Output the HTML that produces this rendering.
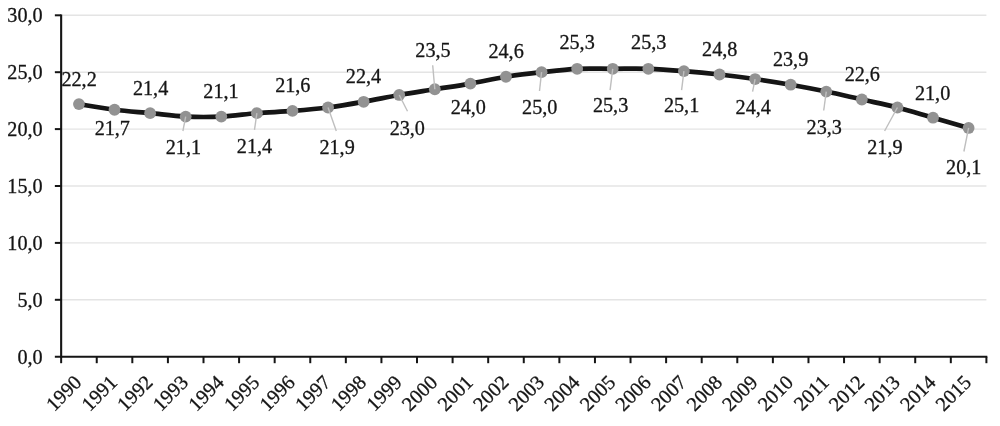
<!DOCTYPE html>
<html><head><meta charset="utf-8"><title>chart</title>
<style>html,body{margin:0;padding:0;background:#fff}svg{display:block}text{font-family:"Liberation Serif",serif;fill:#151515;stroke:#151515;stroke-width:0.3px}</style></head><body>
<svg width="1000" height="426" viewBox="0 0 1000 426">
<rect width="1000" height="426" fill="#fff"/>
<line x1="61.15" x2="986.4" y1="299.80" y2="299.80" stroke="#e4e4e4" stroke-width="1.4"/>
<line x1="61.15" x2="986.4" y1="242.90" y2="242.90" stroke="#e4e4e4" stroke-width="1.4"/>
<line x1="61.15" x2="986.4" y1="186.00" y2="186.00" stroke="#e4e4e4" stroke-width="1.4"/>
<line x1="61.15" x2="986.4" y1="129.10" y2="129.10" stroke="#e4e4e4" stroke-width="1.4"/>
<line x1="61.15" x2="986.4" y1="72.20" y2="72.20" stroke="#e4e4e4" stroke-width="1.4"/>
<line x1="61.15" x2="986.4" y1="15.30" y2="15.30" stroke="#e4e4e4" stroke-width="1.4"/>
<line x1="61.15" x2="61.15" y1="14.40" y2="357.7" stroke="#151515" stroke-width="2.1"/>
<line x1="54.85" x2="987.3" y1="356.7" y2="356.7" stroke="#151515" stroke-width="2.1"/>
<text x="42.7" y="363.5" font-size="20.2" text-anchor="end">0,0</text>
<line x1="54.85" x2="61.15" y1="299.80" y2="299.80" stroke="#151515" stroke-width="2"/>
<text x="42.7" y="306.6" font-size="20.2" text-anchor="end">5,0</text>
<line x1="54.85" x2="61.15" y1="242.90" y2="242.90" stroke="#151515" stroke-width="2"/>
<text x="42.7" y="249.7" font-size="20.2" text-anchor="end">10,0</text>
<line x1="54.85" x2="61.15" y1="186.00" y2="186.00" stroke="#151515" stroke-width="2"/>
<text x="42.7" y="192.8" font-size="20.2" text-anchor="end">15,0</text>
<line x1="54.85" x2="61.15" y1="129.10" y2="129.10" stroke="#151515" stroke-width="2"/>
<text x="42.7" y="135.9" font-size="20.2" text-anchor="end">20,0</text>
<line x1="54.85" x2="61.15" y1="72.20" y2="72.20" stroke="#151515" stroke-width="2"/>
<text x="42.7" y="79.0" font-size="20.2" text-anchor="end">25,0</text>
<line x1="54.85" x2="61.15" y1="15.30" y2="15.30" stroke="#151515" stroke-width="2"/>
<text x="42.7" y="22.1" font-size="20.2" text-anchor="end">30,0</text>
<line x1="61.15" x2="61.15" y1="356.7" y2="363.2" stroke="#151515" stroke-width="2"/>
<line x1="96.74" x2="96.74" y1="356.7" y2="363.2" stroke="#151515" stroke-width="2"/>
<line x1="132.32" x2="132.32" y1="356.7" y2="363.2" stroke="#151515" stroke-width="2"/>
<line x1="167.91" x2="167.91" y1="356.7" y2="363.2" stroke="#151515" stroke-width="2"/>
<line x1="203.50" x2="203.50" y1="356.7" y2="363.2" stroke="#151515" stroke-width="2"/>
<line x1="239.08" x2="239.08" y1="356.7" y2="363.2" stroke="#151515" stroke-width="2"/>
<line x1="274.67" x2="274.67" y1="356.7" y2="363.2" stroke="#151515" stroke-width="2"/>
<line x1="310.26" x2="310.26" y1="356.7" y2="363.2" stroke="#151515" stroke-width="2"/>
<line x1="345.84" x2="345.84" y1="356.7" y2="363.2" stroke="#151515" stroke-width="2"/>
<line x1="381.43" x2="381.43" y1="356.7" y2="363.2" stroke="#151515" stroke-width="2"/>
<line x1="417.02" x2="417.02" y1="356.7" y2="363.2" stroke="#151515" stroke-width="2"/>
<line x1="452.60" x2="452.60" y1="356.7" y2="363.2" stroke="#151515" stroke-width="2"/>
<line x1="488.19" x2="488.19" y1="356.7" y2="363.2" stroke="#151515" stroke-width="2"/>
<line x1="523.77" x2="523.77" y1="356.7" y2="363.2" stroke="#151515" stroke-width="2"/>
<line x1="559.36" x2="559.36" y1="356.7" y2="363.2" stroke="#151515" stroke-width="2"/>
<line x1="594.95" x2="594.95" y1="356.7" y2="363.2" stroke="#151515" stroke-width="2"/>
<line x1="630.53" x2="630.53" y1="356.7" y2="363.2" stroke="#151515" stroke-width="2"/>
<line x1="666.12" x2="666.12" y1="356.7" y2="363.2" stroke="#151515" stroke-width="2"/>
<line x1="701.71" x2="701.71" y1="356.7" y2="363.2" stroke="#151515" stroke-width="2"/>
<line x1="737.29" x2="737.29" y1="356.7" y2="363.2" stroke="#151515" stroke-width="2"/>
<line x1="772.88" x2="772.88" y1="356.7" y2="363.2" stroke="#151515" stroke-width="2"/>
<line x1="808.47" x2="808.47" y1="356.7" y2="363.2" stroke="#151515" stroke-width="2"/>
<line x1="844.05" x2="844.05" y1="356.7" y2="363.2" stroke="#151515" stroke-width="2"/>
<line x1="879.64" x2="879.64" y1="356.7" y2="363.2" stroke="#151515" stroke-width="2"/>
<line x1="915.23" x2="915.23" y1="356.7" y2="363.2" stroke="#151515" stroke-width="2"/>
<line x1="950.81" x2="950.81" y1="356.7" y2="363.2" stroke="#151515" stroke-width="2"/>
<line x1="986.40" x2="986.40" y1="356.7" y2="363.2" stroke="#151515" stroke-width="2"/>
<path d="M78.94,104.06 C84.87,105.01 102.67,108.24 114.53,109.75 C126.39,111.27 138.25,112.03 150.12,113.17 C161.98,114.31 173.84,116.01 185.70,116.58 C197.57,117.15 209.43,117.15 221.29,116.58 C233.15,116.01 245.01,114.12 256.88,113.17 C268.74,112.22 280.60,111.84 292.46,110.89 C304.32,109.94 316.19,109.00 328.05,107.48 C339.91,105.96 351.77,103.87 363.64,101.79 C375.50,99.70 387.36,97.05 399.22,94.96 C411.08,92.87 422.95,91.17 434.81,89.27 C446.67,87.37 458.53,85.67 470.40,83.58 C482.26,81.49 494.12,78.65 505.98,76.75 C517.84,74.86 529.71,73.53 541.57,72.20 C553.43,70.87 565.29,69.36 577.15,68.79 C589.02,68.22 600.88,68.79 612.74,68.79 C624.60,68.79 636.47,68.41 648.33,68.79 C660.19,69.17 672.05,70.11 683.91,71.06 C695.78,72.01 707.64,73.15 719.50,74.48 C731.36,75.80 743.23,77.32 755.09,79.03 C766.95,80.74 778.81,82.63 790.67,84.72 C802.54,86.80 814.40,89.08 826.26,91.55 C838.12,94.01 849.98,96.86 861.85,99.51 C873.71,102.17 885.57,104.44 897.43,107.48 C909.30,110.51 921.16,114.31 933.02,117.72 C944.88,121.13 962.68,126.25 968.61,127.96" fill="none" stroke="#151515" stroke-width="4.7" stroke-linecap="round" stroke-linejoin="round"/>
<circle cx="78.94" cy="104.06" r="5.9" fill="#929292"/>
<circle cx="114.53" cy="109.75" r="5.9" fill="#929292"/>
<circle cx="150.12" cy="113.17" r="5.9" fill="#929292"/>
<circle cx="185.70" cy="116.58" r="5.9" fill="#929292"/>
<circle cx="221.29" cy="116.58" r="5.9" fill="#929292"/>
<circle cx="256.88" cy="113.17" r="5.9" fill="#929292"/>
<circle cx="292.46" cy="110.89" r="5.9" fill="#929292"/>
<circle cx="328.05" cy="107.48" r="5.9" fill="#929292"/>
<circle cx="363.64" cy="101.79" r="5.9" fill="#929292"/>
<circle cx="399.22" cy="94.96" r="5.9" fill="#929292"/>
<circle cx="434.81" cy="89.27" r="5.9" fill="#929292"/>
<circle cx="470.40" cy="83.58" r="5.9" fill="#929292"/>
<circle cx="505.98" cy="76.75" r="5.9" fill="#929292"/>
<circle cx="541.57" cy="72.20" r="5.9" fill="#929292"/>
<circle cx="577.15" cy="68.79" r="5.9" fill="#929292"/>
<circle cx="612.74" cy="68.79" r="5.9" fill="#929292"/>
<circle cx="648.33" cy="68.79" r="5.9" fill="#929292"/>
<circle cx="683.91" cy="71.06" r="5.9" fill="#929292"/>
<circle cx="719.50" cy="74.48" r="5.9" fill="#929292"/>
<circle cx="755.09" cy="79.03" r="5.9" fill="#929292"/>
<circle cx="790.67" cy="84.72" r="5.9" fill="#929292"/>
<circle cx="826.26" cy="91.55" r="5.9" fill="#929292"/>
<circle cx="861.85" cy="99.51" r="5.9" fill="#929292"/>
<circle cx="897.43" cy="107.48" r="5.9" fill="#929292"/>
<circle cx="933.02" cy="117.72" r="5.9" fill="#929292"/>
<circle cx="968.61" cy="127.96" r="5.9" fill="#929292"/>
<line x1="185.70" y1="116.58" x2="182.9" y2="131" stroke="#bfbfbf" stroke-width="1.4"/>
<line x1="256.88" y1="113.17" x2="254.5" y2="129.8" stroke="#bfbfbf" stroke-width="1.4"/>
<line x1="328.05" y1="107.48" x2="336.3" y2="131.1" stroke="#bfbfbf" stroke-width="1.4"/>
<line x1="399.22" y1="94.96" x2="407.5" y2="111.3" stroke="#bfbfbf" stroke-width="1.4"/>
<line x1="434.81" y1="89.27" x2="432.7" y2="65.2" stroke="#bfbfbf" stroke-width="1.4"/>
<line x1="541.57" y1="72.20" x2="539.5" y2="91" stroke="#bfbfbf" stroke-width="1.4"/>
<line x1="612.74" y1="68.79" x2="610.1" y2="90.2" stroke="#bfbfbf" stroke-width="1.4"/>
<line x1="683.91" y1="71.06" x2="681.6" y2="90.2" stroke="#bfbfbf" stroke-width="1.4"/>
<line x1="755.09" y1="79.03" x2="752.6" y2="91.7" stroke="#bfbfbf" stroke-width="1.4"/>
<line x1="826.26" y1="91.55" x2="823.7" y2="110.5" stroke="#bfbfbf" stroke-width="1.4"/>
<line x1="897.43" y1="107.48" x2="884.6" y2="131" stroke="#bfbfbf" stroke-width="1.4"/>
<line x1="968.61" y1="127.96" x2="963.9" y2="151.5" stroke="#bfbfbf" stroke-width="1.4"/>
<text x="79.1" y="86.0" font-size="20.2" text-anchor="middle">22,2</text>
<text x="112.3" y="134.5" font-size="20.2" text-anchor="middle">21,7</text>
<text x="150.6" y="94.5" font-size="20.2" text-anchor="middle">21,4</text>
<text x="183.4" y="153.8" font-size="20.2" text-anchor="middle">21,1</text>
<text x="221.0" y="97.6" font-size="20.2" text-anchor="middle">21,1</text>
<text x="254.5" y="153.3" font-size="20.2" text-anchor="middle">21,4</text>
<text x="292.8" y="91.9" font-size="20.2" text-anchor="middle">21,6</text>
<text x="337.1" y="153.8" font-size="20.2" text-anchor="middle">21,9</text>
<text x="363.5" y="82.9" font-size="20.2" text-anchor="middle">22,4</text>
<text x="407.3" y="134.5" font-size="20.2" text-anchor="middle">23,0</text>
<text x="433.0" y="57.4" font-size="20.2" text-anchor="middle">23,5</text>
<text x="468.3" y="114.2" font-size="20.2" text-anchor="middle">24,0</text>
<text x="506.1" y="58.1" font-size="20.2" text-anchor="middle">24,6</text>
<text x="539.7" y="114.2" font-size="20.2" text-anchor="middle">25,0</text>
<text x="577.1" y="49.2" font-size="20.2" text-anchor="middle">25,3</text>
<text x="610.6" y="112.4" font-size="20.2" text-anchor="middle">25,3</text>
<text x="648.7" y="49.2" font-size="20.2" text-anchor="middle">25,3</text>
<text x="681.6" y="112.4" font-size="20.2" text-anchor="middle">25,1</text>
<text x="719.7" y="55.6" font-size="20.2" text-anchor="middle">24,8</text>
<text x="753.2" y="113.7" font-size="20.2" text-anchor="middle">24,4</text>
<text x="790.6" y="66.4" font-size="20.2" text-anchor="middle">23,9</text>
<text x="824.2" y="134.0" font-size="20.2" text-anchor="middle">23,3</text>
<text x="862.3" y="80.6" font-size="20.2" text-anchor="middle">22,6</text>
<text x="884.9" y="154.1" font-size="20.2" text-anchor="middle">21,9</text>
<text x="932.6" y="99.7" font-size="20.2" text-anchor="middle">21,0</text>
<text x="963.7" y="174.1" font-size="20.2" text-anchor="middle">20,1</text>
<text transform="translate(82.74,383.60) rotate(-45)" text-anchor="end" font-size="20.2">1990</text>
<text transform="translate(118.33,383.60) rotate(-45)" text-anchor="end" font-size="20.2">1991</text>
<text transform="translate(153.92,383.60) rotate(-45)" text-anchor="end" font-size="20.2">1992</text>
<text transform="translate(189.50,383.60) rotate(-45)" text-anchor="end" font-size="20.2">1993</text>
<text transform="translate(225.09,383.60) rotate(-45)" text-anchor="end" font-size="20.2">1994</text>
<text transform="translate(260.68,383.60) rotate(-45)" text-anchor="end" font-size="20.2">1995</text>
<text transform="translate(296.26,383.60) rotate(-45)" text-anchor="end" font-size="20.2">1996</text>
<text transform="translate(331.85,383.60) rotate(-45)" text-anchor="end" font-size="20.2">1997</text>
<text transform="translate(367.44,383.60) rotate(-45)" text-anchor="end" font-size="20.2">1998</text>
<text transform="translate(403.02,383.60) rotate(-45)" text-anchor="end" font-size="20.2">1999</text>
<text transform="translate(438.61,383.60) rotate(-45)" text-anchor="end" font-size="20.2">2000</text>
<text transform="translate(474.20,383.60) rotate(-45)" text-anchor="end" font-size="20.2">2001</text>
<text transform="translate(509.78,383.60) rotate(-45)" text-anchor="end" font-size="20.2">2002</text>
<text transform="translate(545.37,383.60) rotate(-45)" text-anchor="end" font-size="20.2">2003</text>
<text transform="translate(580.95,383.60) rotate(-45)" text-anchor="end" font-size="20.2">2004</text>
<text transform="translate(616.54,383.60) rotate(-45)" text-anchor="end" font-size="20.2">2005</text>
<text transform="translate(652.13,383.60) rotate(-45)" text-anchor="end" font-size="20.2">2006</text>
<text transform="translate(687.71,383.60) rotate(-45)" text-anchor="end" font-size="20.2">2007</text>
<text transform="translate(723.30,383.60) rotate(-45)" text-anchor="end" font-size="20.2">2008</text>
<text transform="translate(758.89,383.60) rotate(-45)" text-anchor="end" font-size="20.2">2009</text>
<text transform="translate(794.47,383.60) rotate(-45)" text-anchor="end" font-size="20.2">2010</text>
<text transform="translate(830.06,383.60) rotate(-45)" text-anchor="end" font-size="20.2">2011</text>
<text transform="translate(865.65,383.60) rotate(-45)" text-anchor="end" font-size="20.2">2012</text>
<text transform="translate(901.23,383.60) rotate(-45)" text-anchor="end" font-size="20.2">2013</text>
<text transform="translate(936.82,383.60) rotate(-45)" text-anchor="end" font-size="20.2">2014</text>
<text transform="translate(972.41,383.60) rotate(-45)" text-anchor="end" font-size="20.2">2015</text>
</svg></body></html>
